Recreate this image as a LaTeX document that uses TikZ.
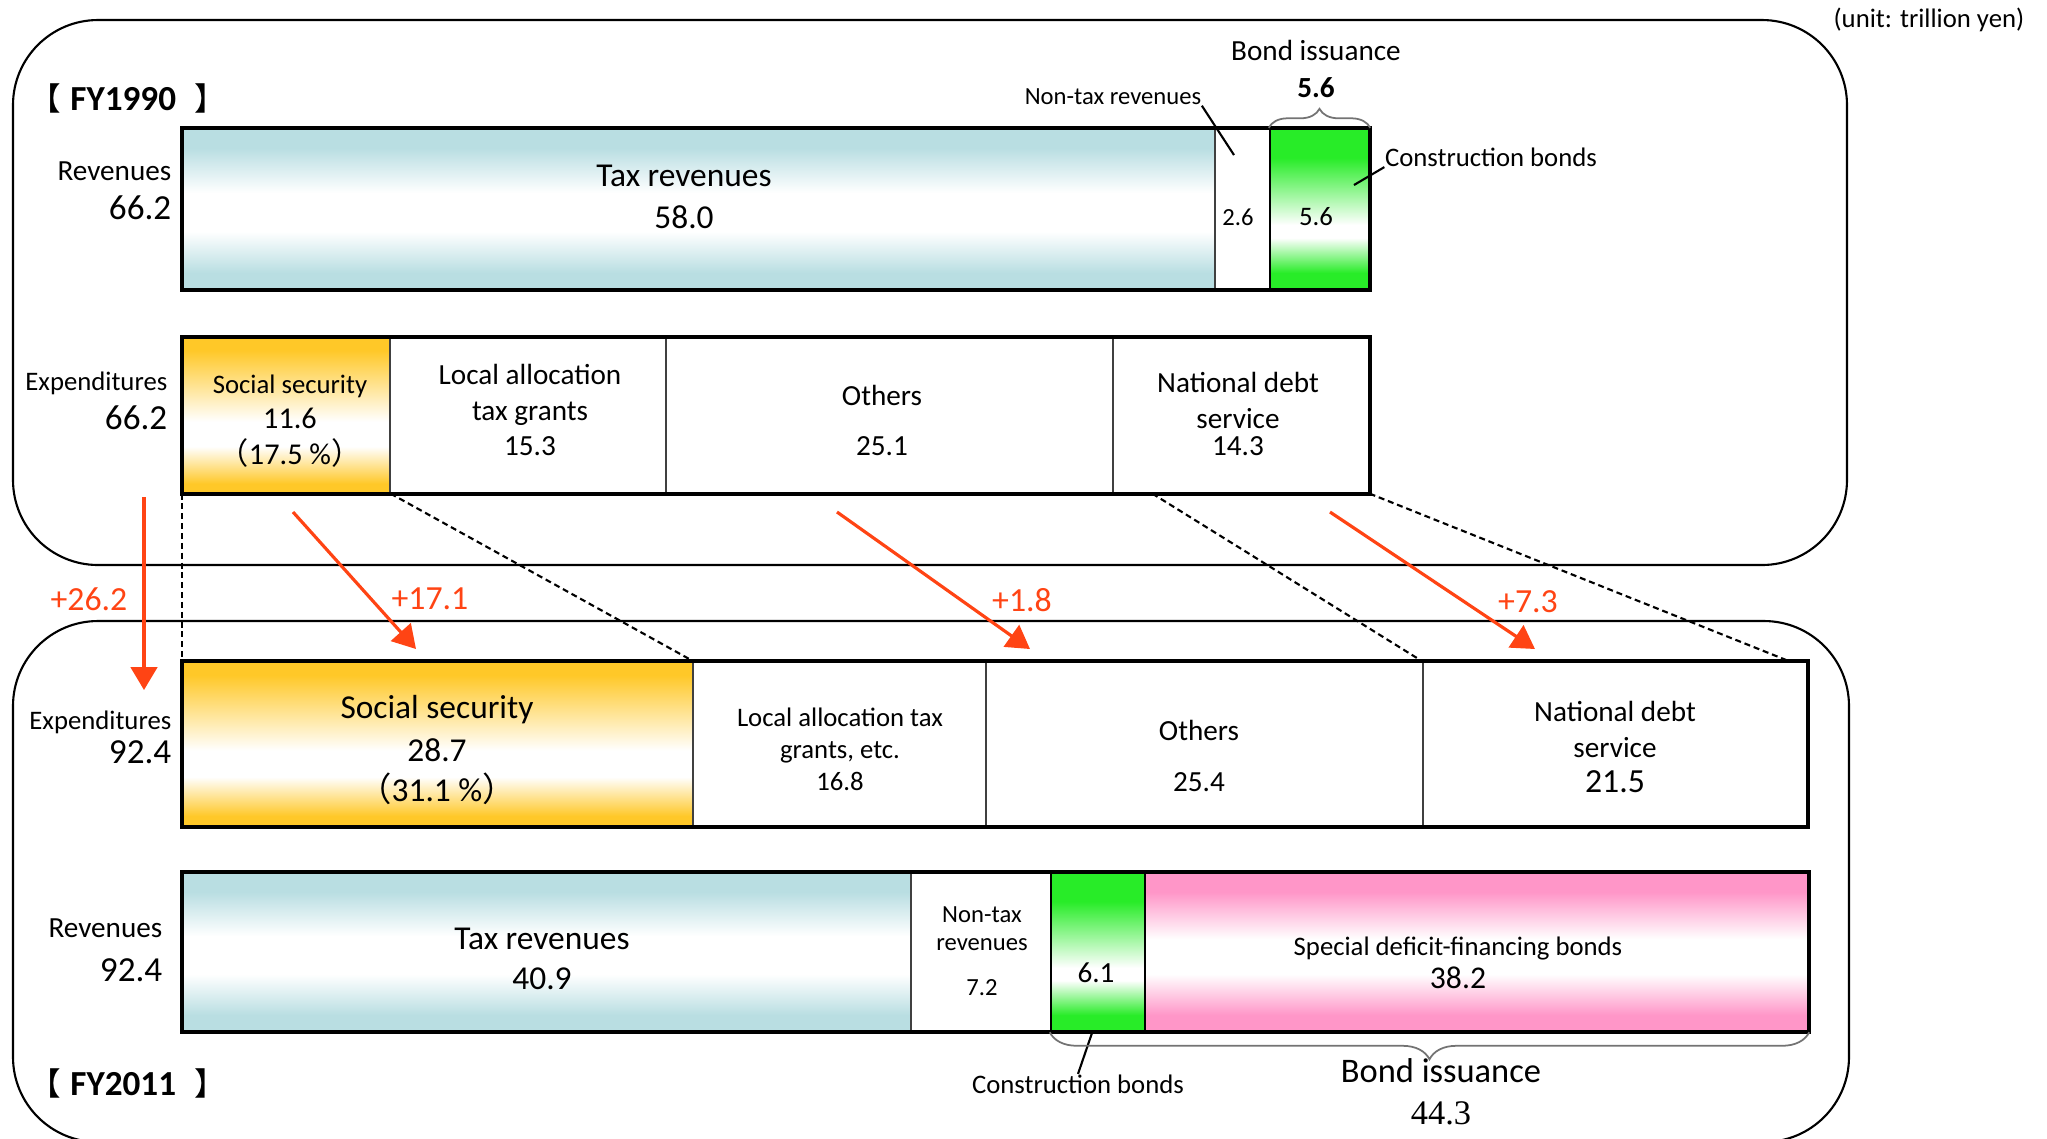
\documentclass[tikz,border=0pt]{standalone}
\usepackage{fontspec}
\setmainfont{Carlito}
\newfontfamily\cjkfont{Noto Sans CJK JP}
\newfontfamily\numserif{Liberation Serif}
\usetikzlibrary{arrows.meta,fit,decorations.pathreplacing}

\definecolor{taxblue}{RGB}{185,222,226}
\definecolor{bondgreen}{RGB}{40,236,40}
\definecolor{ssorange}{RGB}{255,200,40}
\definecolor{deficitpink}{RGB}{255,150,200}
\definecolor{incred}{RGB}{255,68,20}

% vertical colour bands, white a bit below the middle
\pgfdeclareverticalshading{taxshade}{100bp}{color(0bp)=(taxblue); color(30bp)=(taxblue); color(43bp)=(white); color(55bp)=(white); color(69bp)=(taxblue); color(100bp)=(taxblue)}
\pgfdeclareverticalshading{greenshade}{100bp}{color(0bp)=(bondgreen); color(30bp)=(bondgreen); color(41bp)=(white); color(45bp)=(white); color(66bp)=(bondgreen); color(100bp)=(bondgreen)}
\pgfdeclareverticalshading{orangeshade}{100bp}{color(0bp)=(ssorange); color(28bp)=(ssorange); color(40bp)=(white); color(48bp)=(white); color(71bp)=(ssorange); color(100bp)=(ssorange)}
\pgfdeclareverticalshading{pinkshade}{100bp}{color(0bp)=(deficitpink); color(30bp)=(deficitpink); color(43bp)=(white); color(54bp)=(white); color(69bp)=(deficitpink); color(100bp)=(deficitpink)}

\newcommand\fybox[1]{{\cjkfont\fontsize{9}{10}\selectfont 【}\hspace{2.6pt}\textbf{#1}\hspace{5.3pt}{\cjkfont\fontsize{9}{10}\selectfont 】}}
\newcommand\fwparen[1]{{\cjkfont （}#1{\cjkfont ）}}

\begin{document}
\begin{tikzpicture}[
  x=0.01cm, y=-0.01cm,
  every node/.style={inner sep=0pt},
  f1/.style={font=\fontsize{9.5}{11.4}\selectfont},
  f2/.style={font=\fontsize{8.3}{10}\selectfont},
  f3/.style={font=\fontsize{7.6}{9.1}\selectfont},
  f4/.style={font=\fontsize{7}{8.4}\selectfont},
  txt/.style={align=center},
  side/.style={align=right, anchor=east},
  seg/.style={draw=black!75, line width=0.35pt},
  bondseg/.style={seg, line width=0.7pt, draw=black, shading=greenshade},
  bar/.style={draw, line width=1.1pt},
  frame/.style={draw, line width=0.6pt, rounded corners=0.85cm},
  leader/.style={line width=0.6pt},
  dashline/.style={line width=0.6pt, dash pattern=on 1.7pt off 1.1pt},
  incarrow/.style={incred, line width=0.9pt, -{Triangle[length=6.5pt,width=7.5pt]}},
  inc/.style={text=incred, font=\fontsize{9.6}{11}\selectfont},
  bracegray/.style={draw=black!55, line width=0.5pt, decorate}
]
\useasboundingbox (0,0) rectangle (2047,1138);
\clip (0,0) rectangle (2047,1138);

% frames
\draw[frame] (13,20) rectangle (1847,565);
\draw[frame] (13,621) rectangle (1849,1142);
\node[anchor=east, f3] (unit) at (2025,20) {(unit: trillion yen)};
\node (fy90) at (128,98) {\fybox{FY1990}};
\node (fy11) at (128,1083) {\fybox{FY2011}};

% FY1990 revenues
\node[seg, fit={(183,129)(1215,289)}, shading=taxshade] (tax90) {};
\node[seg, fit={(1215,129)(1270,289)}] (ntx90) {};
\node[bondseg, fit={(1270,129)(1369,289)}] (cb90) {};
\node[bar, fit={(tax90)(cb90)}] (rev90) {};
\node[side, f2] (l90rev) at (172,191) {Revenues\\[1pt]{\fontsize{10}{12}\selectfont 66.2}};
\node[txt, f1] (t90tax) at (684,197) {Tax revenues\\[0.4pt]58.0};
\node[txt, f4] (t90ntx) at (1238,217) {2.6};
\node[txt, f3] (t90cb) at (1316,217) {5.6};
\node[txt, f4] (l90ntx) at (1113,97) {Non-tax revenues};
\node[txt, f2] (l90bond) at (1316,69) {Bond issuance\\[0.5pt]\textbf{5.6}};
\node[txt, f3] (l90cb) at (1491,157) {Construction bonds};
\coordinate (p90ntx) at (1234,155);
\coordinate (p90cb) at (1354,185);
\draw[leader] (l90ntx.south east) -- (p90ntx);
\draw[leader] (l90cb.south west) -- (p90cb);
\draw[bracegray, decoration={brace, amplitude=5.4pt}] (cb90.north west) -- (cb90.north east);

% FY1990 expenditures
\node[seg, fit={(183,338)(390,493)}, shading=orangeshade] (ss90) {};
\node[seg, fit={(390,338)(666,493)}] (la90) {};
\node[seg, fit={(666,338)(1113,493)}] (oth90) {};
\node[seg, fit={(1113,338)(1369,493)}] (nds90) {};
\node[bar, fit={(ss90)(nds90)}] (exp90) {};
\node[side, f3] (l90exp) at (168,401) {Expenditures\\[2pt]{\fontsize{10}{12}\selectfont 66.2}};
\node[txt, f3] (t90ss) at (290,421) {Social security\\[0.95pt]{\fontsize{8.6}{10}\selectfont 11.6}\\[0.9pt]{\fontsize{8.6}{10}\selectfont\fwparen{17.5 \%}}};
\node[txt, f2] (t90la) at (530,410) {Local allocation\\tax grants\\15.3};
\node[txt, f2] (t90oth) at (882,420) {Others\\[4.2pt]25.1};
\node[txt, f2] (t90nds) at (1238,414) {National debt\\service\\[-2.3pt]14.3};

% FY2011 expenditures
\node[seg, fit={(183,662)(693,826)}, shading=orangeshade] (ss11) {};
\node[seg, fit={(693,662)(986,826)}] (la11) {};
\node[seg, fit={(986,662)(1423,826)}] (oth11) {};
\node[seg, fit={(1423,662)(1807,826)}] (nds11) {};
\node[bar, fit={(ss11)(nds11)}] (exp11) {};
\node[side, f3] (l11exp) at (172,737) {Expenditures\\[0.5pt]{\fontsize{10}{12}\selectfont 92.4}};
\node[txt, f1] (t11ss) at (437,750) {Social security\\[1pt]28.7\\\fwparen{31.1 \%}};
\node[txt, f3] (t11la) at (840,749) {Local allocation tax\\grants, etc.\\16.8};
\node[txt, f2] (t11oth) at (1199,756) {Others\\[4.5pt]25.4};
\node[txt, f2] (t11nds) at (1615,747) {National debt\\service\\{\fontsize{9.6}{11}\selectfont 21.5}};

% FY2011 revenues
\node[seg, fit={(183,873)(911,1031)}, shading=taxshade] (tax11) {};
\node[seg, fit={(911,873)(1051,1031)}] (ntx11) {};
\node[bondseg, fit={(1051,873)(1145,1031)}] (cb11) {};
\node[seg, fit={(1145,873)(1808,1031)}, shading=pinkshade, draw=black, line width=0.7pt] (sdf11) {};
\node[bar, fit={(tax11)(sdf11)}] (rev11) {};
\node[side, f2] (l11rev) at (163,950) {Revenues\\[2.5pt]{\fontsize{10}{12}\selectfont 92.4}};
\node[txt, f1] (t11tax) at (542,959) {Tax revenues\\40.9};
\node[txt, f4] (t11ntx) at (982,951) {Non-tax\\[-0.4pt]revenues\\[4.4pt]7.2};
\node[txt, f2] (t11cb) at (1096,973) {6.1};
\node[txt, f3] (t11sdf) at (1458,963) {Special deficit-financing bonds\\[0.3pt]{\fontsize{9}{11}\selectfont 38.2}};
\node[txt, font=\fontsize{9.8}{12}\selectfont] (l11bond) at (1441,1092) {Bond issuance\\{\numserif 44.3}};
\node[txt, f3] (l11cb) at (1078,1084) {Construction bonds};
\coordinate (p11cb) at (1092,1033);
\draw[leader] (l11cb.north) -- (p11cb);
\draw[bracegray, decoration={brace, amplitude=7.7pt}] (sdf11.south east) -- (cb11.south west);

% links between the two years
\draw[dashline] (ss90.south west) -- (ss11.north west);
\draw[dashline] (ss90.south east) -- (ss11.north east);
\draw[dashline] ([xshift=0.4cm]nds90.south west) -- (nds11.north west);
\draw[dashline] (nds90.south east) -- ([xshift=-0.18cm]nds11.north east);

% increases
\coordinate (a1s) at (144,497); \coordinate (a1e) at (144,690);
\coordinate (a2s) at (293,512); \coordinate (a2e) at (416,649);
\coordinate (a3s) at (837,512); \coordinate (a3e) at (1030,649);
\coordinate (a4s) at (1330,512); \coordinate (a4e) at (1535,649);
\draw[incarrow] (a1s) -- (a1e);
\draw[incarrow] (a2s) -- (a2e);
\draw[incarrow] (a3s) -- (a3e);
\draw[incarrow] (a4s) -- (a4e);
\node[inc] (d1) at (89,599) {+26.2};
\node[inc] (d2) at (430,599) {+17.1};
\node[inc] (d3) at (1022,600) {+1.8};
\node[inc] (d4) at (1528,602) {+7.3};
\end{tikzpicture}
\end{document}
